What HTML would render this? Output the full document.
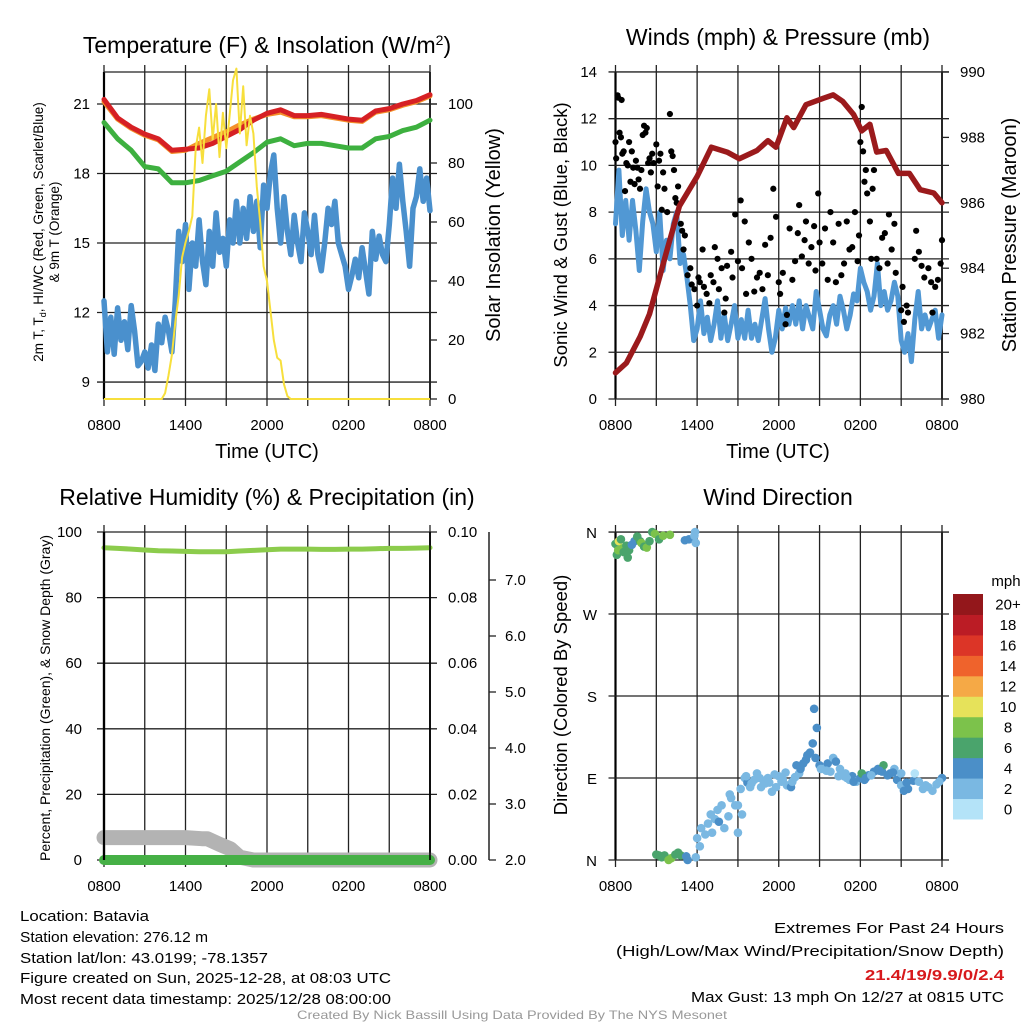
<!DOCTYPE html>
<html><head><meta charset="utf-8"><style>
html,body{margin:0;padding:0;background:#fff;}
svg{display:block;font-family:"Liberation Sans",sans-serif;}
</style></head><body>
<svg id="c" width="1024" height="1024" viewBox="0 0 1024 1024" xmlns="http://www.w3.org/2000/svg">
<g id="txt" fill="#000">
<text x="267" y="53" font-size="23" text-anchor="middle">Temperature (F) &amp; Insolation (W/m<tspan dy="-8" font-size="14">2</tspan><tspan dy="8">)</tspan></text>
<text x="778" y="45" font-size="23" text-anchor="middle">Winds (mph) &amp; Pressure (mb)</text>
<text x="267" y="505" font-size="23" text-anchor="middle">Relative Humidity (%) &amp; Precipitation (in)</text>
<text x="778" y="505" font-size="23" text-anchor="middle">Wind Direction</text>
<text x="267" y="458" font-size="20" text-anchor="middle">Time (UTC)</text>
<text x="778" y="458" font-size="20" text-anchor="middle">Time (UTC)</text>
<text transform="translate(43,232) rotate(-90)" font-size="13.5" text-anchor="middle">2m T, T<tspan dy="3" font-size="9">d</tspan><tspan dy="-3">, HI/WC (Red, Green, Scarlet/Blue)</tspan></text>
<text transform="translate(59,232) rotate(-90)" font-size="13.5" text-anchor="middle">&amp; 9m T (Orange)</text>
<text transform="translate(500,235) rotate(-90)" font-size="20" text-anchor="middle">Solar Insolation (Yellow)</text>
<text transform="translate(567,235) rotate(-90)" font-size="18.5" text-anchor="middle">Sonic Wind &amp; Gust (Blue, Black)</text>
<text transform="translate(1016,235) rotate(-90)" font-size="20" text-anchor="middle">Station Pressure (Maroon)</text>
<text transform="translate(50,698) rotate(-90)" font-size="14" text-anchor="middle">Percent, Precipitation (Green), &amp; Snow Depth (Gray)</text>
<text transform="translate(567,695) rotate(-90)" font-size="18.5" text-anchor="middle">Direction (Colored By Speed)</text>
<text x="1006" y="586" font-size="15" text-anchor="middle">mph</text>
<g font-size="14.5">
<text x="20" y="921" textLength="129" lengthAdjust="spacingAndGlyphs">Location: Batavia</text>
<text x="20" y="942" textLength="188" lengthAdjust="spacingAndGlyphs">Station elevation: 276.12 m</text>
<text x="20" y="963" textLength="248" lengthAdjust="spacingAndGlyphs">Station lat/lon: 43.0199; -78.1357</text>
<text x="20" y="983" textLength="371" lengthAdjust="spacingAndGlyphs">Figure created on Sun, 2025-12-28, at 08:03 UTC</text>
<text x="20" y="1004" textLength="371" lengthAdjust="spacingAndGlyphs">Most recent data timestamp: 2025/12/28 08:00:00</text>
</g>
<g font-size="14.5">
<text x="1004" y="933" text-anchor="end" textLength="230" lengthAdjust="spacingAndGlyphs">Extremes For Past 24 Hours</text>
<text x="1004" y="956" text-anchor="end" textLength="388" lengthAdjust="spacingAndGlyphs">(High/Low/Max Wind/Precipitation/Snow Depth)</text>
<text x="1004" y="980" text-anchor="end" fill="#d7191c" font-weight="bold" textLength="139" lengthAdjust="spacingAndGlyphs">21.4/19/9.9/0/2.4</text>
<text x="1004" y="1002" text-anchor="end" textLength="313" lengthAdjust="spacingAndGlyphs">Max Gust: 13 mph On 12/27 at 0815 UTC</text>
</g>
<text x="512" y="1019" font-size="12" fill="#999" text-anchor="middle" textLength="430" lengthAdjust="spacingAndGlyphs">Created By Nick Bassill Using Data Provided By The NYS Mesonet</text>
</g>
<g id="plots"></g>
</svg>
<script>
// ---------- DATA ----------
const timeLabels = ["0800","1400","2000","0200","0800"];
const tempTicks = [9,12,15,18,21];
const solarTicks = [0,20,40,60,80,100];
const windTicks = [0,2,4,6,8,10,12,14];
const pressTicks = [980,982,984,986,988,990];
const rhTicks = [0,20,40,60,80,100];
const precipTicks = ["0.00","0.02","0.04","0.06","0.08","0.10"];
const snowTicks = [2,3,4,5,6,7];
const dirLabels = ["N","E","S","W","N"];
const dirTickVals = [0,90,180,270,360];
// 15-minute blue temperature (wind chill) series
const blueTemp = [12.5,10.3,11.8,10.2,12.2,10.8,11.6,10.4,12.3,11.2,9.7,9.9,10.3,9.6,10.6,9.5,11.5,10.7,11.8,11.2,10.3,
12.5,15.5,14.2,15.8,13.0,15.0,14.0,16.0,14.2,13.2,15.5,14.0,16.3,14.6,15.2,14.0,16.0,15.0,16.8,15.0,16.5,15.2,17.0,15.5,16.8,14.8,17.5,16.5,18.0,18.8,16.5,15.0,17.0,15.5,14.5,16.2,15.0,14.2,16.3,15.5,14.5,16.2,14.5,13.8,15.0,16.5,15.8,16.8,15.0,14.5,14.0,13.0,13.6,14.3,13.5,14.8,13.8,12.8,15.5,14.3,15.3,14.5,14.2,15.8,17.8,16.5,18.4,16.8,15.5,14.0,16.5,17.0,18.2,16.8,17.8,16.4];
// hourly red (2m T), orange (9m T), green (Td)
const redTemp = [21.2,20.4,20.0,19.7,19.5,19.0,19.05,19.1,19.3,19.6,19.9,20.3,20.6,20.75,20.5,20.5,20.55,20.45,20.35,20.3,20.7,20.8,21.0,21.15,21.4];
const orangeTemp = [21.1,20.35,19.95,19.65,19.45,18.95,19.0,19.3,19.55,19.8,20.1,20.35,20.55,20.65,20.45,20.45,20.5,20.4,20.3,20.25,20.65,20.75,20.95,21.1,21.35];
const greenTemp = [20.2,19.5,19.0,18.3,18.2,17.6,17.6,17.7,17.9,18.1,18.5,18.9,19.35,19.5,19.2,19.3,19.3,19.2,19.1,19.1,19.5,19.6,19.85,20.0,20.3];
// 15-minute solar insolation
const solar = [0,0,0,0,0,0,0,0,0,0,0,0,0,0,0,0,0,0,2,8,15,26,35,48,53,57,62,85,92,80,96,105,88,100,82,97,85,96,108,112,90,106,86,96,90,72,60,45,40,30,20,14,13,5,1,0,0,0,0,0,0,0,0,0,0,0,0,0,0,0,0,0,0,0,0,0,0,0,0,0,0,0,0,0,0,0,0,0,0,0,0,0,0,0,0,0,0];
// 15-minute sonic wind
const wind = [7.5,9.8,7.0,8.5,6.8,8.5,7.2,5.5,7.6,9.0,8.0,7.5,6.3,8.0,5.5,6.8,6.0,7.5,8.0,5.8,6.2,5.2,4.0,2.5,3.0,4.2,2.8,3.5,2.5,3.2,4.2,2.6,3.6,2.5,3.2,4.0,2.6,3.4,2.6,3.8,2.6,3.2,2.5,3.4,4.3,3.0,2.0,2.6,3.8,3.0,3.9,3.2,4.0,3.2,4.2,3.0,4.0,3.5,3.0,4.6,3.8,3.0,2.7,3.6,4.0,3.2,4.4,3.8,3.0,3.6,4.5,4.2,5.6,5.0,4.6,3.8,4.4,5.8,4.0,4.6,3.8,4.2,5.0,4.4,2.5,2.0,2.8,1.6,3.4,4.6,3.0,3.6,3.0,3.4,3.8,2.6,3.6];
// gust dots
const gustTimes = [0.0,0.05,0.15,0.2,0.3,0.4,0.45,0.5,0.6,0.7,0.8,0.9,1.0,1.1,1.2,1.3,1.4,1.5,1.6,1.7,1.8,1.9,2.0,2.1,2.2,2.3,2.4,2.5,2.6,2.7,2.8,3.0,3.1,3.2,3.3,3.4,3.5,3.6,3.8,4.0,4.1,4.2,4.3,4.4,4.5,4.6,4.8,4.9,5.0,5.1,5.3,5.5,5.6,5.8,6.0,6.1,6.2,6.4,6.5,6.7,6.9,7.0,7.2,7.3,7.5,7.6,7.8,8.0,8.1,8.2,8.5,8.6,8.8,9.0,9.2,9.3,9.5,9.6,9.8,10.0,10.2,10.4,10.6,10.8,11.0,11.2,11.4,11.6,11.8,12.0,12.1,12.3,12.5,12.6,12.8,13.0,13.2,13.4,13.5,13.7,13.9,14.0,14.2,14.4,14.6,14.7,14.9,15.0,15.2,15.4,15.6,15.8,16.0,16.2,16.4,16.6,16.8,17.0,17.2,17.4,17.6,17.8,17.9,18.0,18.1,18.2,18.3,18.4,18.5,18.7,18.8,18.9,19.0,19.2,19.4,19.6,19.8,20.0,20.1,20.3,20.5,20.6,21.0,21.1,21.2,21.4,21.5,22.0,22.1,22.3,22.5,22.7,23.0,23.2,23.3,23.5,23.7,23.9,24.0];
const gustValues = [11,10.3,13,12.9,11.4,11.2,12.8,10.5,10.6,8.9,10.1,10.0,11.0,9.3,10.6,9.9,9.2,10.2,9.9,9.4,9.0,9.8,11.3,11.7,11.4,11.6,10.1,10.3,9.7,10.5,10.1,10.9,9.1,10.2,10.5,8.1,9.7,9.0,8.0,12.2,10.6,10.4,9.8,8.6,8.4,9.1,7.5,7.2,6.4,7.0,5.3,5.6,4.9,4.7,4.0,5.2,5.0,6.4,4.8,4.5,4.1,5.3,5.0,6.5,6.0,4.7,5.6,3.7,4.3,5.7,6.3,5.2,7.9,5.9,8.5,5.6,7.6,4.5,6.7,6.0,4.6,5.2,5.4,4.7,6.6,5.3,6.9,9.0,7.8,5.0,4.5,5.4,3.2,3.6,7.3,5.1,5.9,7.1,8.3,6.1,6.8,7.6,5.8,6.5,7.4,5.5,8.8,6.7,5.8,7.3,5.1,8.0,6.7,5.0,7.5,5.3,5.8,7.6,6.4,6.5,8.0,5.9,7.0,11.0,12.5,10.6,9.3,9.8,8.8,7.6,6.0,9.0,9.8,6.0,5.6,6.9,7.1,5.8,7.9,6.4,7.5,5.4,3.8,4.8,3.3,4.0,3.7,6.0,7.2,6.3,5.7,5.2,5.6,5.0,3.7,4.8,5.1,5.8,6.8];
// station pressure
const pressTimes = [0,0.8,1.8,2.5,3.75,4.7,6,7.05,8.2,9.1,10.4,11.2,11.8,12.6,13.1,14,15.3,16,16.7,17.5,18.1,18.7,19.2,19.9,20.8,21.6,22.4,23.4,24];
const pressValues = [980.8,981.1,981.9,982.6,984.5,985.9,986.8,987.7,987.55,987.35,987.6,987.9,987.7,988.6,988.3,989.0,989.2,989.3,989.1,988.7,988.2,988.4,987.55,987.6,986.9,986.9,986.4,986.3,986.0];
// relative humidity (hourly), precipitation, snow depth
const rh = [95.2,95.0,94.8,94.5,94.3,94.2,94.1,94.0,94.0,94.0,94.2,94.4,94.6,94.8,94.8,94.8,94.7,94.7,94.8,94.8,94.9,95.0,95.0,95.1,95.2];
const precip = [0,0,0,0,0,0,0,0,0,0,0,0,0,0,0,0,0,0,0,0,0,0,0,0,0];
const snowTimes = [0,1,2,3,4,5,6,7.2,7.6,8.5,9.3,10,11,12,14,16,18,20,22,24];
const snowDepth = [2.4,2.4,2.4,2.4,2.4,2.4,2.4,2.38,2.38,2.28,2.2,2.05,2.0,2.0,2.0,2.0,2.0,2.0,2.0,2.0];
// wind direction points
const dirTimes = [0,0.1,0.2,0.25,0.4,0.5,0.6,0.8,0.9,1.0,1.2,1.4,1.6,1.8,1.9,2.1,2.3,2.5,2.7,2.9,3.2,3.5,4.0,5.1,5.4,5.8,5.9,5.85,
3.0,3.2,3.4,3.6,3.9,4.1,4.4,4.6,4.8,5.2,5.3,5.9,
6.0,6.2,6.3,6.6,6.8,7.0,7.1,7.3,7.5,7.6,7.8,8.0,8.3,8.5,8.4,8.8,9.0,9.0,9.3,9.5,9.7,9.9,10.2,10.4,10.7,11.0,11.2,11.5,11.8,12.0,12.3,12.6,12.9,13.0,13.2,13.5,13.6,14.0,14.3,14.5,14.7,14.8,14.6,15.0,15.3,15.6,15.8,16.0,16.2,16.5,16.8,17.2,17.4,17.7,18.0,18.3,18.6,19.0,19.3,19.6,19.7,20.0,20.2,20.5,20.7,21.0,21.2,21.5,21.9,22.3,22.6,23.0,23.3,23.6,24.0,18.1,16.9,22.0,21.0,
9.2,9.6,10.0,10.6,10.9,11.3,11.7,12.2,12.5,13.3,13.8,14.1,15.1,15.5,16.4,17.0,17.5,18.4,18.8,19.4,20.4,21.4,22.8,23.8];
const dirValues = [347,335,340,350,352,342,338,345,332,340,346,350,355,350,348,344,343,350,360,358,352,356,357,351,352,356,348,360,
6,5,3,5,0,2,6,8,5,4,0,3,
24,15,35,28,40,50,30,45,55,42,60,35,48,68,72,60,60,30,50,90,85,80,88,95,80,84,90,75,80,92,88,82,80,86,91,95,100,110,118,128,112,145,166,104,100,106,97,112,108,100,92,88,92,86,90,88,93,97,100,97,104,93,95,100,88,82,76,78,87,86,78,80,76,83,90,95,95,95,95,
78,92,84,90,86,85,94,86,96,104,106,115,100,98,92,90,86,90,93,98,96,85,82,86];
const dirSpeeds = [7,7,8,10,6,8,7,7,6,7,5,4,6,7,8,7,8,7,6,8,6,8,8,4,4,3,3,2,
6,7,6,7,9,8,6,6,6,4,4,2,
3,3,2,2,2,2,2,2,3,4,2,2,2,2,2,2,2,2,2,3,4,2,2,2,2,3,2,2,2,3,2,3,4,2,3,2,4,4,4,4,4,4,4,4,3,4,3,2,4,3,2,2,4,3,4,4,4,4,4,4,6,4,4,3,4,3,4,4,4,3,2,2,2,2,4,6,2,1,2,
2,3,2,2,3,2,2,3,2,4,4,4,3,2,2,3,4,4,3,4,4,4,2,2];
const cbLabels = ["0","2","4","6","8","10","12","14","16","18","20+"];
const cbColors = ["#b4e3f8","#7ab8e2","#4b8fc8","#4aa46c","#7cc24b","#e6e25a","#f5a946","#ef632c","#dc3527","#bb1c25","#93171b"];

// ---------- DRAW ----------
const NS="http://www.w3.org/2000/svg";
const root=document.getElementById('plots');
function el(tag,attrs,parent){const e=document.createElementNS(NS,tag);for(const k in attrs)e.setAttribute(k,attrs[k]);(parent||root).appendChild(e);return e;}
function txt(x,y,s,size,anchor,parent){const t=el('text',{x:x,y:y,'font-size':size,'text-anchor':anchor},parent);t.textContent=s;return t;}
function pathFrom(xs,ys){let d='';for(let i=0;i<xs.length;i++)d+=(i?'L':'M')+xs[i].toFixed(1)+' '+ys[i].toFixed(1);return d;}
function series(arr){return arr.map((v,i)=>i*24/(arr.length-1));}

function frame(g,L,R,T,B,name){
  for(let h=0;h<=24;h+=3){const x=L+(R-L)*h/24;
    const ln=el('line',{x1:x,x2:x,y1:T-7,y2:B+7,stroke:'#222','stroke-width':1.3},g);
    
    }
  for(let i=0;i<timeLabels.length;i++){const x=L+(R-L)*i/4;
    const t=txt(x,B+31,timeLabels[i],15,'middle',g);
    
    }
  el('line',{x1:L,x2:L,y1:T,y2:B,stroke:'#000','stroke-width':2.2},g);
  el('line',{x1:R,x2:R,y1:T,y2:B,stroke:'#000','stroke-width':1.6},g);
}
function hgrid(g,L,R,y){el('line',{x1:L-7,x2:R+7,y1:y,y2:y,stroke:'#222','stroke-width':1.3},g);}

// Panel 1
{
const g=el('g',{});  
const L=104,R=430,T=72,B=399;
const x=h=>L+(R-L)*h/24, y=v=>104+(21-v)*23.17, ys=v=>B-v*2.95;
frame(g,L,R,T,B,'temp');
el('line',{x1:L,x2:R,y1:T,y2:T,stroke:'#222','stroke-width':1.3},g);
el('line',{x1:L,x2:R,y1:B,y2:B,stroke:'#222','stroke-width':1.3},g);
tempTicks.forEach(v=>{hgrid(g,L,R,y(v));const t=txt(90,y(v)+5,String(v),15,'end',g);
   });
solarTicks.forEach(v=>{el('line',{x1:R,x2:R+7,y1:ys(v),y2:ys(v),stroke:'#222','stroke-width':1.3},g);const t=txt(448,ys(v)+5,String(v),15,'start',g);
   });
const bp=el('path',{d:pathFrom(series(blueTemp).map(x),blueTemp.map(y)),fill:'none',stroke:'#4a90cd','stroke-width':5.5,'stroke-linejoin':'round','stroke-linecap':'round'},g);
 
const op=el('path',{d:pathFrom(series(orangeTemp).map(x),orangeTemp.map(y)),fill:'none',stroke:'#f4902a','stroke-width':5,'stroke-linejoin':'round','stroke-linecap':'round'},g);
 
const rp=el('path',{d:pathFrom(series(redTemp).map(x),redTemp.map(y)),fill:'none',stroke:'#d62024','stroke-width':5,'stroke-linejoin':'round','stroke-linecap':'round'},g);
 
const gp=el('path',{d:pathFrom(series(greenTemp).map(x),greenTemp.map(y)),fill:'none',stroke:'#3db03f','stroke-width':5,'stroke-linejoin':'round','stroke-linecap':'round'},g);
 
const sp=el('path',{d:pathFrom(series(solar).map(x),solar.map(ys)),fill:'none',stroke:'#f7df3c','stroke-width':2,'stroke-linejoin':'round'},g);
 
}
// Panel 2
{
const g=el('g',{});  
const L=615.5,R=942,T=72,B=399;
const x=h=>L+(R-L)*h/24, y=v=>B-v*23.36, yp=v=>B-(v-980)*32.7;
frame(g,L,R,T,B,'wind');
windTicks.forEach(v=>{hgrid(g,L,R,y(v));const t=txt(597,y(v)+5,String(v),15,'end',g);
   });
pressTicks.forEach(v=>{el('line',{x1:R,x2:R+7,y1:yp(v),y2:yp(v),stroke:'#222','stroke-width':1.3},g);const t=txt(960,yp(v)+5,String(v),15,'start',g);
   });
const wp=el('path',{d:pathFrom(series(wind).map(x),wind.map(y)),fill:'none',stroke:'#5198d4','stroke-width':5,'stroke-linejoin':'round','stroke-linecap':'round'},g);
 
for(let i=0;i<gustTimes.length;i++){const c=el('circle',{cx:x(gustTimes[i]),cy:y(gustValues[i]),r:3.1,fill:'#000'},g);
   }
const pp=el('path',{d:pathFrom(pressTimes.map(x),pressValues.map(yp)),fill:'none',stroke:'#9b1a1c','stroke-width':5.5,'stroke-linejoin':'round','stroke-linecap':'round'},g);
 
}
// Panel 3
{
const g=el('g',{});  
const L=104,R=430,T=532,B=860;
const x=h=>L+(R-L)*h/24, y=v=>B-v*3.28, ysn=v=>B-(v-2)*56;
frame(g,L,R,T,B,'humidity');
rhTicks.forEach((v,i)=>{hgrid(g,L,R,y(v));const t=txt(82,y(v)+5,String(v),15,'end',g);
   
  const t2=txt(448,y(v)+5,precipTicks[i],15,'start',g);
   });
el('line',{x1:489,x2:489,y1:T,y2:B,stroke:'#222','stroke-width':1.5},g);
snowTicks.forEach(v=>{el('line',{x1:489,x2:496,y1:ysn(v),y2:ysn(v),stroke:'#222','stroke-width':1.3},g);const t=txt(505,ysn(v)+5,v.toFixed(1),15,'start',g);
   });
const snp=el('path',{d:pathFrom(snowTimes.map(x),snowDepth.map(ysn)),fill:'none',stroke:'#b3b3b3','stroke-width':15,'stroke-linejoin':'round','stroke-linecap':'round'},g);
 
const prp=el('path',{d:pathFrom(series(precip).map(x),precip.map(v=>B-v*3280)),fill:'none',stroke:'#46b046','stroke-width':10,'stroke-linecap':'round'},g);
 
const rhp=el('path',{d:pathFrom(series(rh).map(x),rh.map(y)),fill:'none',stroke:'#8ccc4c','stroke-width':5,'stroke-linecap':'round'},g);
 
el('line',{x1:L,x2:L,y1:T,y2:B,stroke:'#000','stroke-width':2.2},g);
el('line',{x1:R,x2:R,y1:T,y2:B,stroke:'#000','stroke-width':1.6},g);
}
// Panel 4
{
const g=el('g',{});  
const L=615.5,R=942,T=532,B=860;
const x=h=>L+(R-L)*h/24, y=d=>B-d*0.911;
frame(g,L,R,T,B,'direction');
dirTickVals.forEach((v,i)=>{hgrid(g,L,R,y(v));const t=txt(597,y(v)+6,dirLabels[i],15,'end',g);
   });
for(let i=0;i<dirTimes.length;i++){const bin=Math.min(10,Math.floor(dirSpeeds[i]/2));
  const c=el('circle',{cx:x(dirTimes[i]),cy:y(dirValues[i]),r:4.3,fill:cbColors[bin]},g);
   }
const cb=el('g',{},g);  
const bh=(819-594)/cbColors.length;
for(let i=0;i<cbColors.length;i++){const yy=819-(i+1)*bh;
  const r=el('rect',{x:953,y:yy,width:30,height:bh+0.5,fill:cbColors[i]},cb);
   
  const t=txt(1008,yy+bh/2+5.5,cbLabels[i],15,'middle',cb);
   }
}
</script>
</body></html>
